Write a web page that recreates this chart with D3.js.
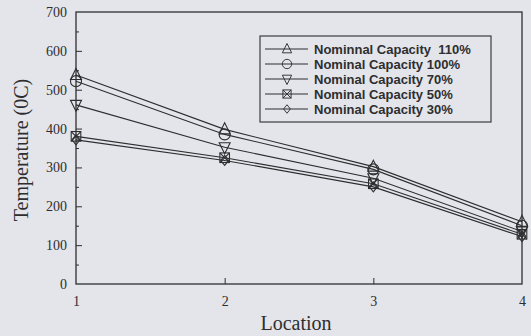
<!DOCTYPE html>
<html>
<head>
<meta charset="utf-8">
<script src="https://cdn.jsdelivr.net/npm/d3@7"></script>
<style>
  body { margin: 0; background: #e3e5ea; }
  svg { display: block; }
</style>
</head>
<body>
<svg width="531" height="336"></svg>
<script>
// data
var locations = [1, 2, 3, 4];
var seriesNames = ['Nominnal Capacity  110%', 'Nominal Capacity 100%', 'Nominal Capacity 70%',
    'Nominal Capacity 50%', 'Nominal Capacity 30%'];
var seriesSymbols = ['triangleUp', 'circle', 'triangleDown', 'squareX', 'diamond'];
var cap110 = [538, 398, 302, 160];
var cap100 = [522, 385, 295, 150];
var cap70 = [461, 352, 272, 135];
var cap50 = [380, 325, 258, 128];
var cap30 = [371, 318, 250, 122];
var yTicks = [0, 100, 200, 300, 400, 500, 600, 700];

var allSeries = [cap110, cap100, cap70, cap50, cap30];

var svg = d3.select('svg');
var padding = {top: 12, bottom: 52, right: 9, left: 76};
var width = +svg.attr('width');
var height = +svg.attr('height');
var myWidth = width - padding.left - padding.right;
var myHeight = height - padding.top - padding.bottom;
var ink = '#2e2e30';

var chartG = svg.append('g')
    .attr('transform', 'translate(' + [padding.left, padding.top] + ')');

var xScale = d3.scaleLinear().domain([1, 4]).range([0, myWidth]);
var yScale = d3.scaleLinear().domain([0, 700]).range([myHeight, 0]);

// frame
chartG.append('rect')
    .attr('width', myWidth)
    .attr('height', myHeight)
    .style('fill', 'none')
    .style('stroke', ink)
    .style('stroke-width', 1.3);

// y axis, inward ticks, minor at 50s
var yAxisG = chartG.append('g')
    .call(d3.axisRight(yScale).tickValues(d3.range(50, 700, 100)).tickSize(3).tickFormat(''));
yAxisG.select('.domain').remove();
yAxisG.selectAll('line').style('stroke', ink);

var yMajor = chartG.append('g')
    .call(d3.axisLeft(yScale).tickValues(yTicks).tickSize(0).tickPadding(9));
yMajor.select('.domain').remove();
yMajor.selectAll('text')
    .style('font-family', '"Liberation Serif", serif')
    .style('font-size', '14px')
    .style('fill', ink);
chartG.append('g')
    .call(d3.axisRight(yScale).tickValues(yTicks.slice(1, -1)).tickSize(6).tickFormat(''))
    .call(function(g) { g.select('.domain').remove(); })
    .selectAll('line').style('stroke', ink);

// x axis
var xAxisG = chartG.append('g')
    .attr('transform', 'translate(0,' + myHeight + ')')
    .call(d3.axisBottom(xScale).tickValues(locations).tickSize(0).tickPadding(12).tickFormat(d3.format('d')));
xAxisG.select('.domain').remove();
xAxisG.selectAll('text')
    .style('font-family', '"Liberation Serif", serif')
    .style('font-size', '14px')
    .style('fill', ink);
chartG.append('g')
    .attr('transform', 'translate(0,' + myHeight + ')')
    .call(d3.axisTop(xScale).tickValues([2, 3]).tickSize(6).tickFormat(''))
    .call(function(g) { g.select('.domain').remove(); })
    .selectAll('line').style('stroke', ink);

// axis titles
svg.append('text')
    .attr('transform', 'translate(28,' + (padding.top + myHeight / 2 + 2) + ') rotate(-90)')
    .attr('text-anchor', 'middle')
    .style('font-family', '"Liberation Serif", serif')
    .style('font-size', '20px')
    .style('fill', ink)
    .text('Temperature (0C)');

svg.append('text')
    .attr('x', 296)
    .attr('y', 330)
    .attr('text-anchor', 'middle')
    .style('font-family', '"Liberation Serif", serif')
    .style('font-size', '20px')
    .style('fill', ink)
    .text('Location');

// marker drawing
function drawMarker(g, kind) {
    var r = 5.5;
    if (kind === 'triangleUp') {
        g.append('path').attr('d', 'M0,' + (-r - 1) + 'L' + r + ',' + (r - 1) + 'L' + (-r) + ',' + (r - 1) + 'Z');
    } else if (kind === 'triangleDown') {
        g.append('path').attr('d', 'M0,' + (r + 1) + 'L' + r + ',' + (-r + 1) + 'L' + (-r) + ',' + (-r + 1) + 'Z');
    } else if (kind === 'circle') {
        g.append('circle').attr('r', r);
    } else if (kind === 'squareX') {
        var s = 4.8;
        g.append('rect').attr('x', -s).attr('y', -s).attr('width', 2 * s).attr('height', 2 * s);
        g.append('path').attr('d', 'M' + (-s) + ',' + (-s) + 'L' + s + ',' + s + 'M' + s + ',' + (-s) + 'L' + (-s) + ',' + s);
    } else if (kind === 'diamond') {
        g.append('path').attr('d', 'M0,-5L4,0L0,5L-4,0Z');
    }
    g.selectAll('*').style('fill', 'none').style('stroke', ink).style('stroke-width', 1.1);
}

var line = d3.line()
    .x(function(d, i) { return xScale(locations[i]); })
    .y(function(d) { return yScale(d); });

allSeries.forEach(function(values, si) {
    chartG.append('path')
        .datum(values)
        .attr('d', line)
        .style('fill', 'none')
        .style('stroke', ink)
        .style('stroke-width', 1.1);
    values.forEach(function(v, i) {
        var mg = chartG.append('g')
            .attr('transform', 'translate(' + xScale(locations[i]) + ',' + yScale(v) + ')');
        drawMarker(mg, seriesSymbols[si]);
    });
});

// legend
var legendG = svg.append('g').attr('transform', 'translate(260,36)');
legendG.append('rect')
    .attr('width', 231)
    .attr('height', 86)
    .style('fill', '#e3e5ea')
    .style('stroke', ink)
    .style('stroke-width', 1.1);

seriesNames.forEach(function(name, i) {
    var row = legendG.append('g').attr('transform', 'translate(0,' + (13 + i * 15) + ')');
    row.append('line')
        .attr('x1', 5).attr('x2', 48)
        .style('stroke', ink).style('stroke-width', 1.1);
    var mg = row.append('g').attr('transform', 'translate(27,0) scale(0.85)');
    drawMarker(mg, seriesSymbols[i]);
    row.append('text')
        .attr('x', 54)
        .attr('y', 5)
        .style('font-family', '"Liberation Sans", Arial, sans-serif')
        .style('font-weight', 'bold')
        .style('font-size', '13px')
        .style('fill', ink)
        .style('white-space', 'pre')
        .text(name);
});
</script>
</body>
</html>
